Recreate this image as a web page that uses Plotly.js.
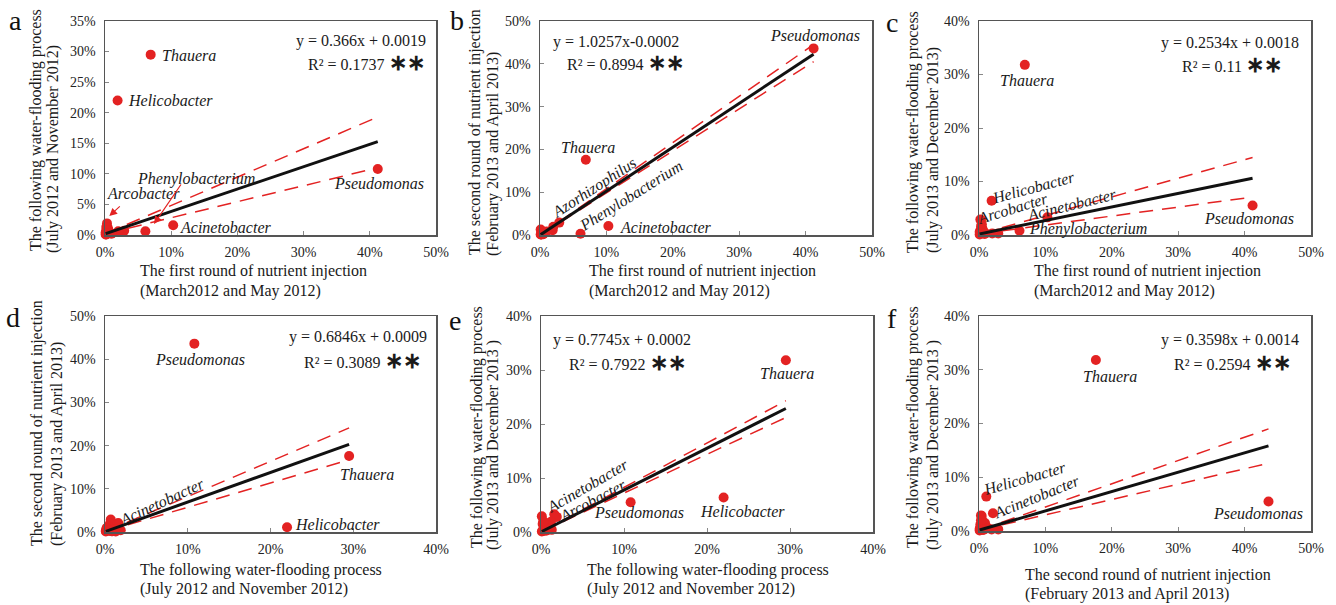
<!DOCTYPE html>
<html><head><meta charset="utf-8">
<script src="https://cdn.plot.ly/plotly-3.0.1.min.js"></script>
<style>html,body{margin:0;padding:0;background:#fff}#chart{width:1336px;height:605px}</style>
</head><body><div id="chart"></div>
<script>
// Relative abundance of genera in the four sampling periods (same genus order in each array)
const genera = ["Pseudomonas","Thauera","Helicobacter","Acinetobacter","Phenylobacterium","Arcobacter","Azorhizophilus",
  "g8","g9","g10","g11","g12","g13","g14","g15","g16","g17","g18","g19","g20"];
const firstInjection  = [0.412,0.069,0.019,0.103,0.061,0.003,0.029,0.020,0.002,0.004,0.001,0.005,0.008,0.002,0.003,0.006,0.001,0.010,0.002,0.004]; // March2012 and May 2012
const flooding2012    = [0.108,0.295,0.220,0.016,0.006,0.019,0.007,0.006,0.001,0.012,0.004,0.009,0.003,0.013,0.002,0.005,0.001,0.002,0.008,0.003]; // July 2012 and November 2012
const secondInjection = [0.436,0.176,0.011,0.021,0.003,0.004,0.029,0.019,0.003,0.005,0.013,0.002,0.006,0.001,0.009,0.004,0.001,0.008,0.002,0.003]; // February 2013 and April 2013
const flooding2013    = [0.055,0.318,0.064,0.033,0.008,0.028,0.003,0.003,0.029,0.019,0.006,0.012,0.002,0.004,0.015,0.009,0.001,0.003,0.005,0.020]; // July 2013 and December 2013

// Regression results per panel a..f
const panelLetters = ["a","b","c","d","e","f"];
const slopes     = [0.366, 1.0257, 0.2534, 0.6846, 0.7745, 0.3598];
const intercepts = [0.0019, -0.0002, 0.0018, 0.0009, 0.0002, 0.0014];
const equations  = ["y = 0.366x + 0.0019","y = 1.0257x-0.0002","y = 0.2534x + 0.0018","y = 0.6846x + 0.0009","y = 0.7745x + 0.0002","y = 0.3598x + 0.0014"];
const rSquared   = ["0.1737","0.8994","0.11","0.3089","0.7922","0.2594"];
// confidence band values at the largest x of each panel
const bandUpperAtMax = [0.193, 0.445, 0.145, 0.241, 0.243, 0.190];
const bandLowerAtMax = [0.110, 0.405, 0.071, 0.167, 0.212, 0.126];
// axis ranges
const xMaxes = [0.5, 0.5, 0.5, 0.4, 0.4, 0.5];
const yMaxes = [0.35, 0.5, 0.4, 0.5, 0.4, 0.4];
const yDticks = [0.05, 0.1, 0.1, 0.1, 0.1, 0.1];

const xSeries = [firstInjection, firstInjection, firstInjection, flooding2012, flooding2012, secondInjection];
const ySeries = [flooding2012, secondInjection, flooding2013, secondInjection, flooding2013, flooding2013];

const W = 1336, H = 605;
const SERIF = "Liberation Serif, Times New Roman, serif";
const RED = "#e32222";
// plot-area pixel boxes [left,right,top,bottom]
const boxes = [[105,436,21,235],[540,872,21,235],[979,1311,21,235],[105,436,316,532],[541,873,316,532],[979,1311,316,531]];

const traces = [];
const layout = {width:W, height:H, margin:{l:0,r:0,t:0,b:0}, showlegend:false,
  paper_bgcolor:"#fff", plot_bgcolor:"#fff", annotations:[], font:{family:SERIF, color:"#1a1a1a"}};

for (let i = 0; i < 6; i++) {
  const n = i === 0 ? "" : String(i + 1);
  const xa = "x" + n, ya = "y" + n;
  const [l, r, t, b] = boxes[i];
  const axCommon = {showgrid:false, zeroline:false, showline:true, mirror:true, linecolor:"#555", linewidth:1.5,
    ticks:"inside", ticklen:4, tickcolor:"#888", tickwidth:1, tickformat:".0%",
    tickfont:{family:SERIF, size:14, color:"#222"}, fixedrange:true};
  layout["xaxis" + n] = Object.assign({}, axCommon, {domain:[l/W, r/W], anchor:ya, range:[0, xMaxes[i]], dtick:0.1, ticklabelstandoff:4});
  layout["yaxis" + n] = Object.assign({}, axCommon, {domain:[1 - b/H, 1 - t/H], anchor:xa, range:[0, yMaxes[i]], dtick:yDticks[i], ticklabelstandoff:5});

  const xs = xSeries[i], ys = ySeries[i];
  const xmin = Math.min(...xs), xmax = Math.max(...xs);
  const fit = x => slopes[i] * x + intercepts[i];
  // confidence bands (dashed)
  traces.push({type:"scatter", mode:"lines", xaxis:xa, yaxis:ya, x:[xmin, xmax], y:[fit(xmin), bandUpperAtMax[i]],
    line:{color:RED, width:1.5, dash:"14px,9px"}, hoverinfo:"skip"});
  traces.push({type:"scatter", mode:"lines", xaxis:xa, yaxis:ya, x:[xmin, xmax], y:[fit(xmin), bandLowerAtMax[i]],
    line:{color:RED, width:1.5, dash:"14px,9px"}, hoverinfo:"skip"});
  // points
  traces.push({type:"scatter", mode:"markers", xaxis:xa, yaxis:ya, x:xs, y:ys, text:genera,
    marker:{color:RED, size:10, line:{width:0}}, cliponaxis:false});
  // regression line
  traces.push({type:"scatter", mode:"lines", xaxis:xa, yaxis:ya, x:[xmin, xmax], y:[fit(xmin), fit(xmax)],
    line:{color:"#111", width:3}, hoverinfo:"skip"});
}

function ann(text, px, py, o) {
  return Object.assign({xref:"paper", yref:"paper", x:px/W, y:1 - py/H, text:text, showarrow:false,
    font:{family:SERIF, size:16, color:"#1a1a1a"}, xanchor:"left", yanchor:"middle"}, o || {});
}
const A = layout.annotations;

// panel letters
[[15,20],[457,20],[892,22],[13,317],[455,320],[892,318]].forEach((p, i) =>
  A.push(ann(panelLetters[i], p[0], p[1], {xanchor:"center", font:{family:SERIF, size:28, color:"#111"}})));

// equations
const eqPos = [[428,41,427,63],[681,42,686,63],[1301,43,1284,65],[429,337,423,360],[693,340,688,362],[1301,340,1293,362]];
eqPos.forEach((p, i) => {
  A.push(ann(equations[i], p[0], p[1], {xanchor:"right"}));
  A.push(ann("R² = " + rSquared[i] + " <b><span style='font-size:22px'>∗∗</span></b>", p[2], p[3], {xanchor:"right"}));
});

// axis titles
const xTitles = [
  ["The first round of nutrient injection","(March2012 and May 2012)",138,271,291],
  ["The first round of nutrient injection","(March2012 and May 2012)",587,271,291],
  ["The first round of nutrient injection","(March2012 and May 2012)",1032,271,291],
  ["The following water-flooding process","(July 2012 and November 2012)",138,570,589],
  ["The following water-flooding process","(July 2012 and November 2012)",585,570,589],
  ["The second round of nutrient injection","(February 2013 and April 2013)",1023,575,594]];
xTitles.forEach(t => { A.push(ann(t[0], t[2], t[3])); A.push(ann(t[1], t[2], t[4])); });
const yTitles = [
  ["The following water-flooding process","(July 2012 and November 2012)",36,253,53,255],
  ["The second round of nutrient injection","(February 2013 and April 2013)",475,257,493,258],
  ["The following water-flooding process","(July 2013 and December 2013)",913,255,933,255],
  ["The second round of nutrient injection","(February 2013 and April 2013)",37,548,57,548],
  ["The following water-flooding process","(July 2013 and December 2013 )",477,550,493,552],
  ["The following water-flooding process","(July 2013 and December 2013 )",913,550,933,552]];
yTitles.forEach(t => {
  A.push(ann(t[0], t[2], t[3], {textangle:-90, xanchor:"center", yanchor:"bottom"}));
  A.push(ann(t[1], t[4], t[5], {textangle:-90, xanchor:"center", yanchor:"bottom"}));
});

// genus labels: [name, px, py, anchor, angle]
const labels = [
  ["Thauera",160,55,"left",0],["Helicobacter",126,100,"left",0],["Pseudomonas",426,184,"right",0],
  ["Acinetobacter",178,227,"left",0],["Phenylobacterium",135,179,"left",0],["Arcobacter",105,193,"left",0],
  ["Pseudomonas",862,35,"right",0],["Thauera",559,147,"left",0],["Acinetobacter",618,227,"left",0],
  ["Azorhizophilus",594,188,"center",-33],["Phenylobacterium",631,196,"center",-32],
  ["Thauera",998,80,"left",0],["Pseudomonas",1296,218,"right",0],["Helicobacter",1033,188,"center",-15],
  ["Arcobacter",1012,208,"center",-17],["Acinetobacter",1072,204,"center",-14],["Phenylobacterium",1027,229,"left",0],
  ["Pseudomonas",200,359,"center",0],["Thauera",338,474,"left",0],["Helicobacter",293,524,"left",0],
  ["Acinetobacter",162,501,"center",-25],
  ["Thauera",787,373,"center",0],["Pseudomonas",639,512,"center",0],["Helicobacter",742,511,"center",0],
  ["Acinetobacter",588,486,"center",-30],["Arcobacter",592,500,"center",-28],
  ["Thauera",1110,376,"center",0],["Pseudomonas",1258,513,"center",0],["Helicobacter",1024,478,"center",-16],
  ["Acinetobacter",1037,497,"center",-22]];
labels.forEach(l => A.push(ann("<i>" + l[0] + "</i>", l[1], l[2], {xanchor:l[3], textangle:l[4]})));

// arrows in panel a
A.push({xref:"x", yref:"y", x:0.0065, y:0.031, ax:12, ay:-11, axref:"pixel", ayref:"pixel", text:"", showarrow:true,
  arrowcolor:RED, arrowwidth:1.2, arrowhead:2, arrowsize:1.3});
A.push({xref:"x", yref:"y", x:0.074, y:0.018, ax:28, ay:-41, axref:"pixel", ayref:"pixel", text:"", showarrow:true,
  arrowcolor:RED, arrowwidth:1.2, arrowhead:2, arrowsize:1.3});

Plotly.newPlot("chart", traces, layout, {staticPlot:true});
</script></body></html>
